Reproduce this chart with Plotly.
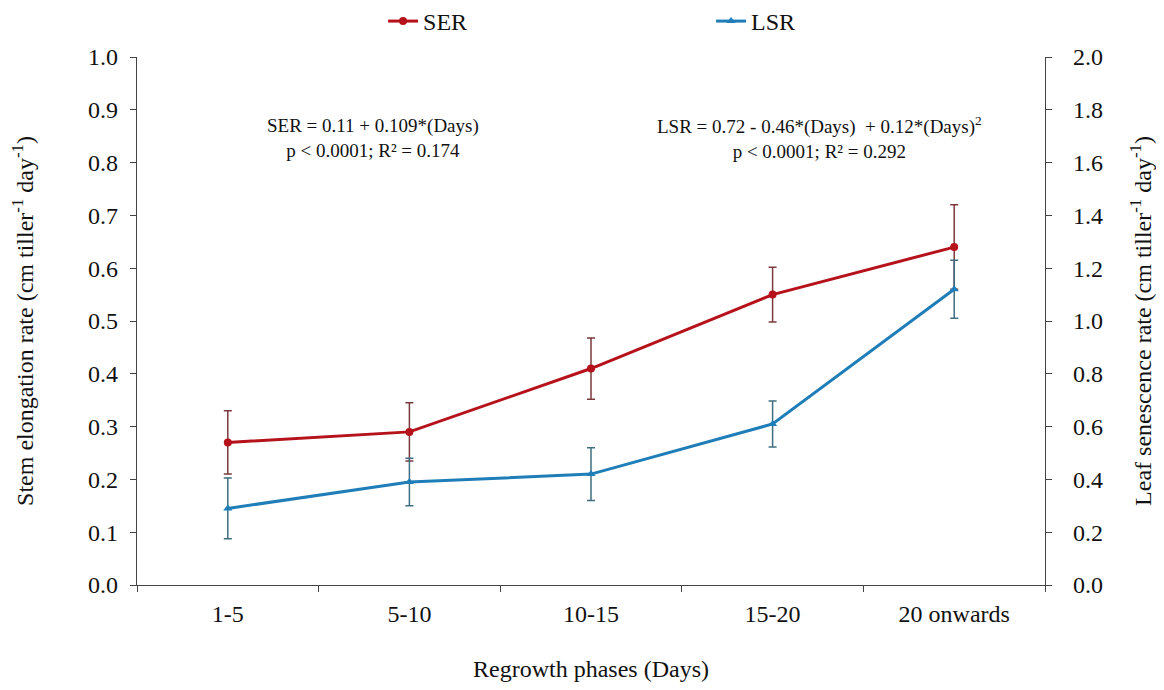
import plotly.graph_objects as go

categories = ["1-5", "5-10", "10-15", "15-20", "20 onwards"]
ser_values = [0.27, 0.29, 0.41, 0.55, 0.64]
ser_errors = [0.06, 0.055, 0.058, 0.052, 0.08]
lsr_values = [0.29, 0.39, 0.42, 0.61, 1.12]
lsr_errors = [0.115, 0.09, 0.10, 0.087, 0.11]

left_ticks = [round(i * 0.1, 1) for i in range(11)]
right_ticks = [round(i * 0.2, 1) for i in range(11)]

FONT = "Liberation Serif"
RED = "#B5121B"
BLUE = "#1F7DB8"
TXT = "#111111"

fig = go.Figure()
fig.add_trace(go.Scatter(
    x=categories, y=ser_values, name="SER", mode="lines+markers",
    line=dict(color=RED, width=3),
    marker=dict(symbol="circle", size=8, color=RED),
    error_y=dict(type="data", array=ser_errors, visible=True,
                 color="#7A3A3D", thickness=1.5, width=4),
    yaxis="y",
))
fig.add_trace(go.Scatter(
    x=categories, y=lsr_values, name="LSR", mode="lines+markers",
    line=dict(color=BLUE, width=3),
    marker=dict(symbol="triangle-up", size=8, color=BLUE),
    error_y=dict(type="data", array=lsr_errors, visible=True,
                 color="#3E6E80", thickness=1.5, width=4),
    yaxis="y2",
))

fig.add_annotation(
    x=0.260, y=0.847, xref="paper", yref="paper", showarrow=False,
    xanchor="center", yanchor="middle",
    text="SER = 0.11 + 0.109*(Days)<br>p < 0.0001; R² = 0.174",
    font=dict(family=FONT, size=19, color=TXT), align="center",
)
fig.add_annotation(
    x=0.752, y=0.847, xref="paper", yref="paper", showarrow=False,
    xanchor="center", yanchor="middle",
    text="LSR = 0.72 - 0.46*(Days)  + 0.12*(Days)<sup>2</sup><br>p < 0.0001; R² = 0.292",
    font=dict(family=FONT, size=19, color=TXT), align="center",
)

axis_common = dict(
    showgrid=False, zeroline=False, showline=True, linecolor="#444", linewidth=1.2,
    ticks="outside", ticklen=6, tickcolor="#444", automargin=False,
    tickfont=dict(family=FONT, size=24, color=TXT),
)

fig.update_layout(
    width=1148, height=674,
    margin=dict(l=129, r=111, t=49, b=97),
    plot_bgcolor="white", paper_bgcolor="white",
    font=dict(family=FONT, color=TXT),
    showlegend=True,
    legend=dict(
        orientation="h", x=0.271, xanchor="left",
        y=0.98, yref="container", yanchor="middle",
        font=dict(family=FONT, size=24, color=TXT),
        entrywidth=283, entrywidthmode="pixels",
        bgcolor="rgba(0,0,0,0)",
    ),
    xaxis=dict(
        **axis_common, type="category", categoryorder="array", categoryarray=categories,
        range=[-0.5, 4.5], tickson="boundaries", ticklabelstandoff=7,
        title=dict(text="Regrowth phases (Days)", font=dict(family=FONT, size=24, color=TXT),
                   standoff=44),
    ),
    yaxis=dict(
        **axis_common, range=[0, 1.0], tickvals=left_ticks, tickformat=".1f",
        ticklabelstandoff=7,
        title=dict(text="Stem elongation rate (cm tiller<sup>-1</sup> day<sup>-1</sup>)",
                   font=dict(family=FONT, size=24, color=TXT), standoff=49),
    ),
    yaxis2=dict(
        **axis_common, range=[0, 2.0], tickvals=right_ticks, tickformat=".1f",
        overlaying="y", side="right", anchor="x", ticklabelstandoff=16,
        title=dict(text="Leaf senescence rate (cm tiller<sup>-1</sup> day<sup>-1</sup>)",
                   font=dict(family=FONT, size=24, color=TXT), standoff=35),
    ),
)

fig.write_html("out.html")
